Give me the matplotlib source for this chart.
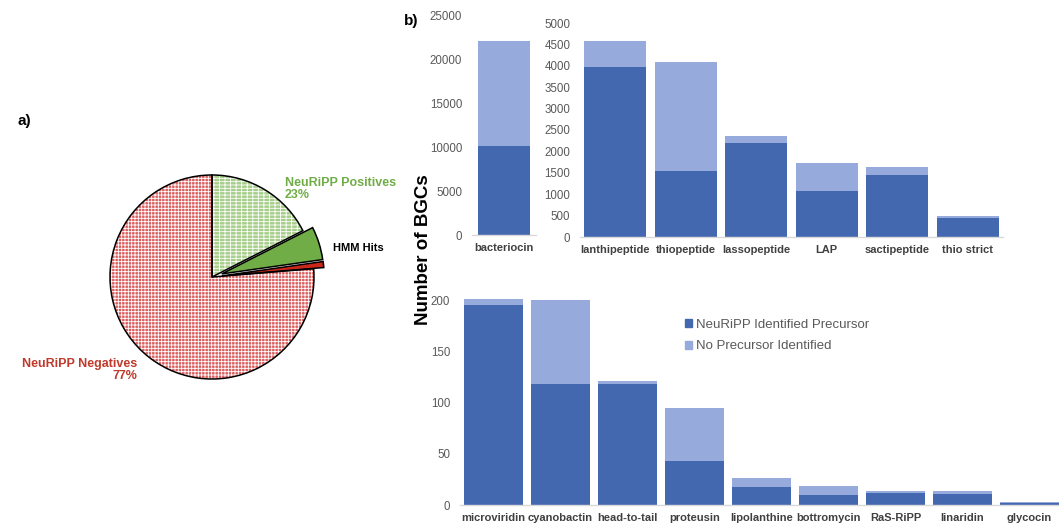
import matplotlib.pyplot as plt
from matplotlib.patches import Patch

W, H = 1059, 523

DARK = '#4468B0'
LIGHT = '#96AADB'
TICK_GRAY = '#595959'
LABEL_GRAY = '#404040'

# pie: NeuRiPP positives / HMM hits (positive, negative) / NeuRiPP negatives
PIE_LABELS = ['NeuRiPP Positives', 'HMM Hits (positive)', 'HMM Hits (negative)', 'NeuRiPP Negatives']
PIE_SHARES = [17.5, 5.25, 0.95, 76.3]

# bar panel b)
BACT_CATS = ['bacteriocin']
BACT_IDENT = [10100]
BACT_NONE = [11950]

MID_CATS = ['lanthipeptide', 'thiopeptide', 'lassopeptide', 'LAP', 'sactipeptide', 'thio strict']
MID_IDENT = [3965, 1545, 2195, 1075, 1440, 445]
MID_NONE = [615, 2535, 165, 645, 195, 45]

LOW_CATS = ['microviridin', 'cyanobactin', 'head-to-tail', 'proteusin', 'lipolanthine',
            'bottromycin', 'RaS-RiPP', 'linaridin', 'glycocin']
LOW_IDENT = [195, 118, 118, 43, 18, 10, 12, 11, 2]
LOW_NONE = [6, 82, 3.5, 52, 8, 8.5, 1.5, 2.5, 0.6]

plt.rcParams['font.family'] = ['Liberation Sans', 'DejaVu Sans']
plt.rcParams['hatch.linewidth'] = 0.6


def px_axes(fig, x0, y0, x1, y1):
    """Axes from pixel box (top-left origin)."""
    return fig.add_axes([x0 / W, 1 - y1 / H, (x1 - x0) / W, (y1 - y0) / H])


def stacked(ax, cats, ident, none, width, ylim, yticks):
    x = range(len(cats))
    ax.bar(x, ident, width=width, color=DARK, linewidth=0)
    ax.bar(x, none, width=width, bottom=ident, color=LIGHT, linewidth=0)
    ax.set_xlim(-0.5, len(cats) - 0.5)
    ax.set_ylim(*ylim)
    ax.set_yticks(yticks)
    ax.set_xticks(list(x))
    ax.set_xticklabels(cats, fontsize=8, fontweight='bold', color=LABEL_GRAY)
    ax.tick_params(axis='both', length=0)
    ax.tick_params(axis='y', labelsize=8.3, labelcolor=TICK_GRAY, pad=7)
    ax.tick_params(axis='x', pad=6)
    for side in ['top', 'right', 'left']:
        ax.spines[side].set_visible(False)
    ax.spines['bottom'].set_color('#D9D9D9')
    ax.spines['bottom'].set_linewidth(1.0)
    ax.patch.set_alpha(0)


fig = plt.figure(figsize=(W / 100, H / 100), dpi=100)

# ---- a) pie ----
R = 102
cx, cy = 212, 277
pie_ax = px_axes(fig, cx - 1.5 * R, cy - 1.5 * R, cx + 1.5 * R, cy + 1.5 * R)
explode = [0, 0.1, 0.1, 0]
fills = ['#A6CE8A', '#70AD47', '#C9261C', '#DC5F5F']
hatches = ['-----|||', None, None, '+++++']
wedges, _ = pie_ax.pie(PIE_SHARES, explode=explode, startangle=90, counterclock=False,
                       colors=fills, wedgeprops=dict(linewidth=0, edgecolor='white'))
for w, h in zip(wedges, hatches):
    if h:
        w.set_hatch(h)
pie_ax.pie(PIE_SHARES, explode=explode, startangle=90, counterclock=False,
           wedgeprops=dict(fill=False, edgecolor='black', linewidth=1.1))
pie_ax.set_xlim(-1.5, 1.5)
pie_ax.set_ylim(-1.5, 1.5)
pie_ax.set_aspect('equal')
pie_ax.axis('off')

fig.text(285 / W, 1 - 189 / H, 'NeuRiPP Positives\n23%', color='#70AD47', fontsize=9,
         fontweight='bold', ha='left', va='center', linespacing=1.0)
fig.text(333 / W, 1 - 248 / H, 'HMM Hits', color='black', fontsize=8,
         fontweight='bold', ha='left', va='center')
fig.text(137 / W, 1 - 370 / H, 'NeuRiPP Negatives\n77%', color='#C0392B', fontsize=9,
         fontweight='bold', ha='right', va='center', linespacing=1.0, multialignment='right')

fig.text(18 / W, 1 - 121 / H, 'a)', fontsize=11, fontweight='bold', va='center')
fig.text(404 / W, 1 - 21 / H, 'b)', fontsize=11, fontweight='bold', va='center')

# ---- b) bars ----
ax_bact = px_axes(fig, 472, 15, 536, 235)
stacked(ax_bact, BACT_CATS, BACT_IDENT, BACT_NONE, 0.8, (0, 25000), range(0, 25001, 5000))

ax_mid = px_axes(fig, 580, 23, 1003, 237)
stacked(ax_mid, MID_CATS, MID_IDENT, MID_NONE, 0.875, (0, 5000), range(0, 5001, 500))

ax_low = px_axes(fig, 460, 290, 1063, 505)
stacked(ax_low, LOW_CATS, LOW_IDENT, LOW_NONE, 0.88, (0, 210), range(0, 201, 50))

handles = [Patch(color=DARK, label='NeuRiPP Identified Precursor'),
           Patch(color=LIGHT, label='No Precursor Identified')]
leg = fig.legend(handles=handles, loc='upper left', bbox_to_anchor=(678 / W, 1 - 312 / H),
                 frameon=False, fontsize=9.5, handlelength=0.55, handleheight=0.55,
                 handletextpad=0.35, labelspacing=0.75, borderpad=0)
for t in leg.get_texts():
    t.set_color(TICK_GRAY)

fig.text(424 / W, 1 - 250 / H, 'Number of BGCs', rotation=90, fontsize=13.5,
         fontweight='bold', ha='center', va='center', color='black')

fig.savefig('out.png', dpi=100)
